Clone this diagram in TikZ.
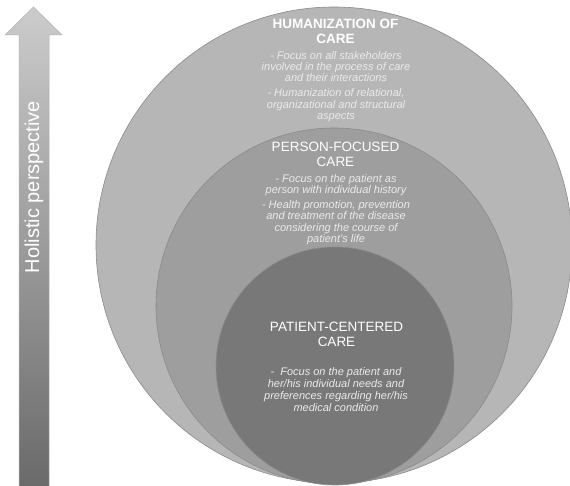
\documentclass[tikz,border=0pt]{standalone}
\usepackage{fontspec}
\setmainfont{Liberation Sans}
\usetikzlibrary{positioning}

\definecolor{outerfill}{RGB}{182,182,182}
\definecolor{midfill}{RGB}{158,158,158}
\definecolor{innerfill}{RGB}{120,120,120}
\definecolor{ringline}{RGB}{138,138,138}
\definecolor{arrowtop}{RGB}{204,204,204}
\definecolor{arrowbot}{RGB}{106,106,106}

\begin{document}
\begin{tikzpicture}[x=1pt,y=-1pt,
    ring/.style={draw=ringline,line width=0.6pt},
    title/.style={align=center,text=white,inner sep=0pt,font=\fontsize{13.5}{15}\selectfont},
    boldtitle/.style={title,font=\fontsize{13.5}{15}\selectfont\bfseries},
    body/.style={align=center,text=white!92!black,inner sep=0pt,font=\fontsize{11}{11.3}\selectfont\itshape}]
        \useasboundingbox (0,0) rectangle (570,486);

        % arrow on the left
        \shadedraw[top color=arrowtop,bottom color=arrowbot,draw=black!30,line width=0.5pt]
            (19,487) -- (19,35) -- (5,35) -- (33.5,7) -- (62,35) -- (49,35) -- (49,487) -- cycle;
        \node[rotate=90,text=white,font=\fontsize{20}{24}\selectfont] (holistic) at (34,187) {Holistic perspective};

        % nested circles
        \filldraw[ring,fill=outerfill] (334,245) circle (238);
        \filldraw[ring,fill=midfill] (334,306) circle (178);
        \filldraw[ring,fill=innerfill] (335,366) circle (119);

        \node[boldtitle] at (335.5,31.5) (humtitle) {HUMANIZATION OF\\CARE};
        \node[body] at (336,86.5) (humtext) {- Focus on all stakeholders\\involved in the process of care\\and their interactions\\[3.5pt]- Humanization of relational,\\organizational and structural\\aspects};

        \node[title] at (335.5,154.6) (pftitle) {PERSON-FOCUSED\\CARE};
        \node[body] at (336,209.5) (pftext) {- Focus on the patient as\\person with individual history\\[3.5pt]- Health promotion, prevention\\and treatment of the disease\\considering the course of\\patient's life};

        \node[title] at (336.5,334) (pctitle) {PATIENT-CENTERED\\CARE};
        \node[body,font=\fontsize{11}{12}\selectfont\itshape] at (336,390) (pctext) {- \ Focus on the patient and\\her/his individual needs and\\preferences regarding her/his\\medical condition};
\end{tikzpicture}
\end{document}
